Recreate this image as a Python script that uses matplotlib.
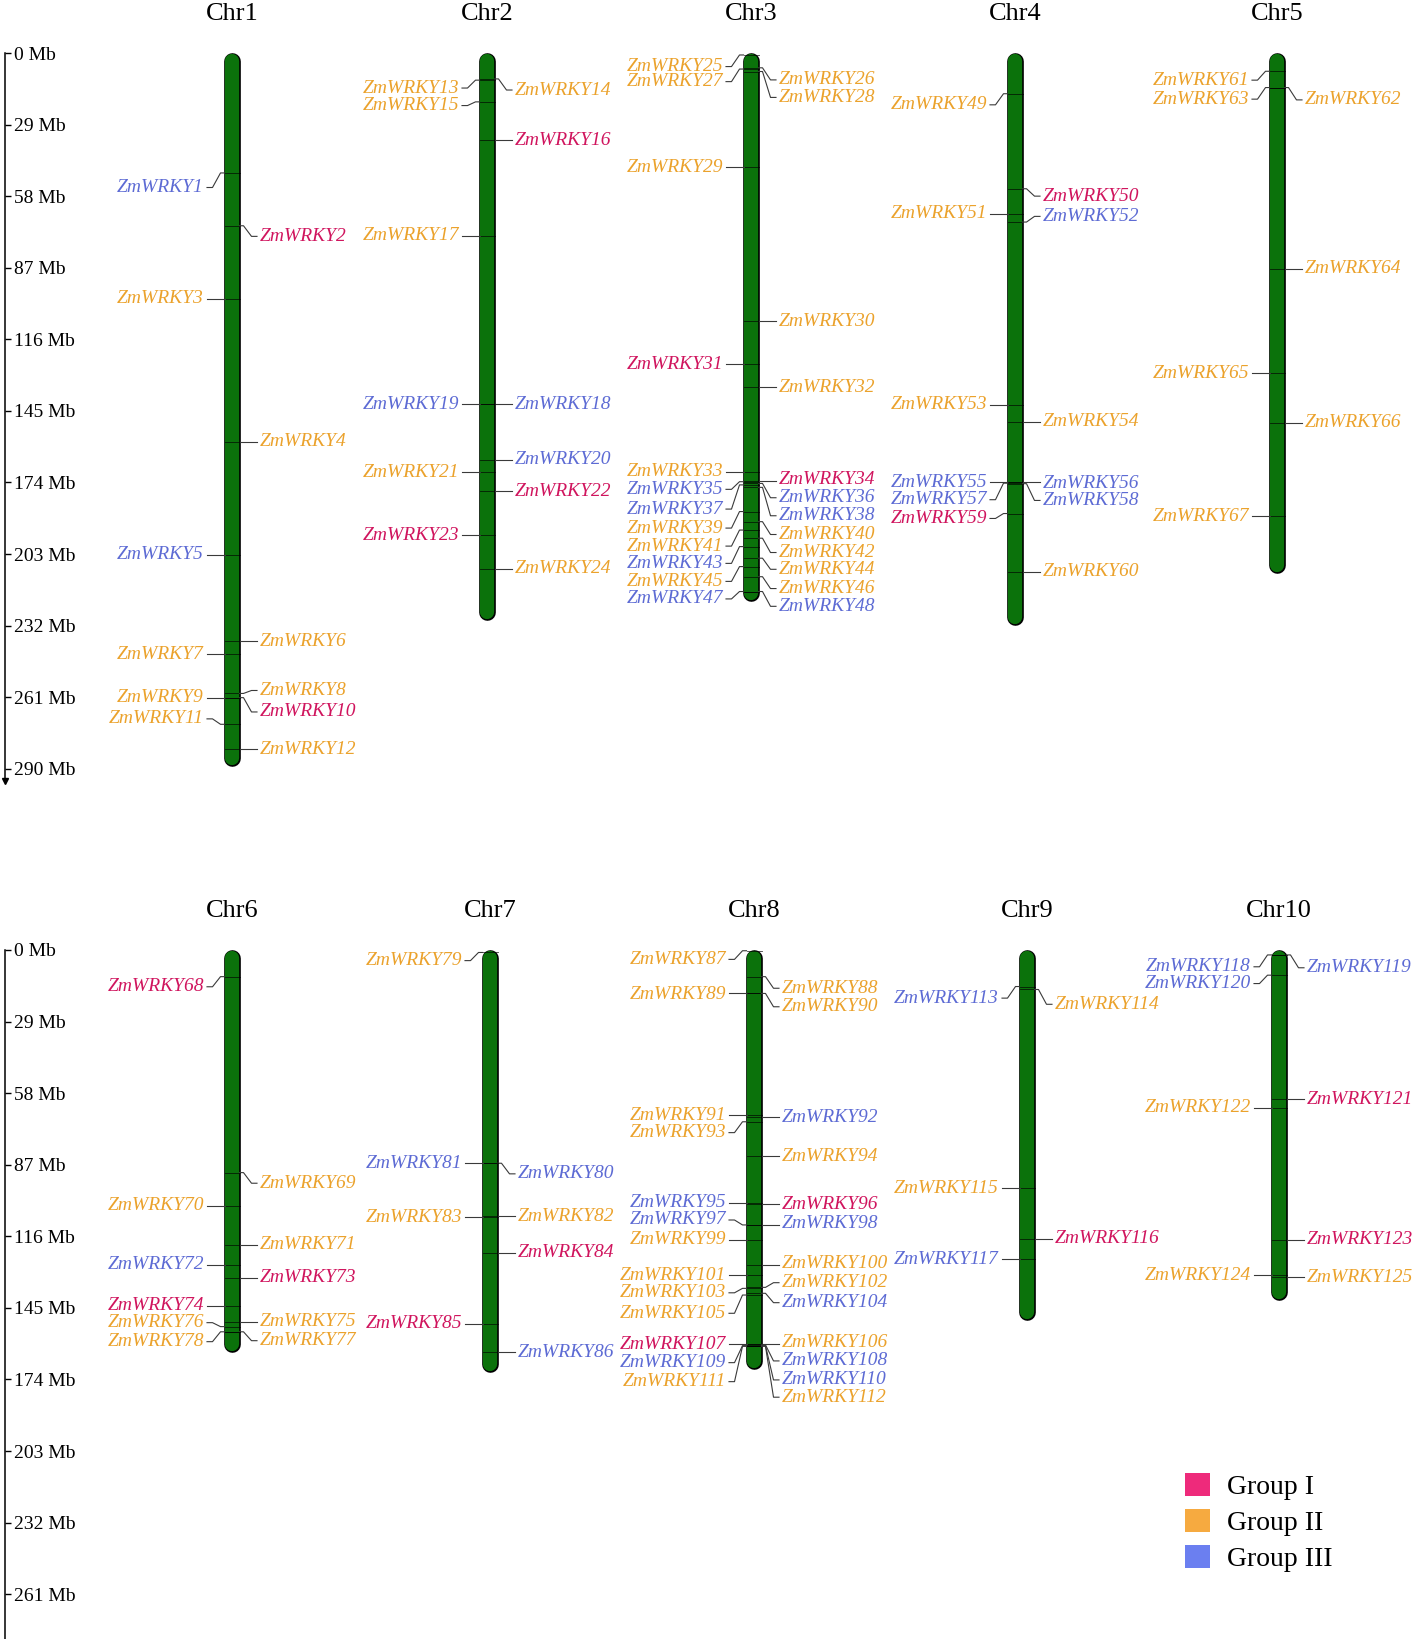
import matplotlib
matplotlib.use("Agg")
import matplotlib.pyplot as plt
from matplotlib.patches import Patch

plt.rcParams["font.family"] = ["Liberation Serif", "DejaVu Serif"]

# chromosomes
chr_names = ["Chr1", "Chr2", "Chr3", "Chr4", "Chr5",
             "Chr6", "Chr7", "Chr8", "Chr9", "Chr10"]
chr_len = [289, 230, 222, 232, 211, 163, 171, 170, 150, 142]   # Mb
genes_per_chr = [12, 12, 24, 12, 7, 11, 8, 26, 5, 8]

# gene position on chromosome (Mb), ZmWRKY1..125 in order
gene_pos = [
    48.6, 70.0, 99.5, 157.5, 203.4, 238.3, 243.7, 259.5, 261.2, 261.2, 272.0, 282.2,       # Chr1
    11.0, 10.5, 19.8, 35.3, 74.0, 142.4, 142.4, 164.8, 169.8, 177.5, 195.3, 208.9,          # Chr2
    0.8, 6.0, 6.5, 7.5, 46.2, 108.7, 126.2, 135.5, 169.6, 173.5, 173.7, 174.4,              # Chr3
    175.0, 176.0, 185.8, 189.9, 193.3, 196.6, 200.0, 204.7, 208.1, 212.2, 218.2, 218.2,
    16.5, 55.0, 65.2, 68.5, 142.5, 149.4, 173.9, 173.9, 174.3, 174.5, 186.6, 210.2,         # Chr4
    7.4, 14.0, 14.0, 87.5, 129.8, 149.8, 187.8,                                             # Chr5
    10.8, 90.2, 103.6, 119.5, 127.6, 132.8, 144.1, 150.6, 152.6, 154.7, 154.7,              # Chr6
    1.0, 86.4, 86.4, 107.9, 108.2, 122.7, 151.5, 163.0,                                     # Chr7
    0.3, 10.8, 17.6, 17.6, 66.9, 67.8, 69.6, 83.5, 102.4, 102.8, 111.4, 111.4, 117.5,      # Chr8
    127.6, 131.7, 136.7, 137.1, 139.1, 139.8, 159.6, 159.6, 160.0, 160.3, 160.3, 160.6, 160.6,
    14.8, 16.0, 96.6, 117.0, 125.4,                                                         # Chr9
    2.0, 2.0, 10.2, 60.5, 64.0, 117.4, 131.8, 132.6,                                        # Chr10
]
# where each label sits (Mb)
label_pos = [
    54.5, 74.3, 99.5, 157.5, 203.4, 238.3, 243.7, 258.3, 261.2, 267.0, 269.8, 282.2,
    14.2, 15.0, 21.3, 35.3, 74.0, 142.4, 142.4, 164.8, 169.8, 177.5, 195.3, 208.9,
    5.5, 10.9, 11.6, 18.0, 46.2, 108.7, 126.2, 135.5, 169.4, 172.8, 176.8, 180.2,
    184.8, 187.5, 192.5, 195.1, 199.8, 202.4, 206.8, 209.2, 214.1, 217.0, 221.2, 224.2,
    21.0, 58.0, 65.2, 66.2, 142.5, 149.4, 173.9, 174.4, 181.0, 181.3, 188.6, 210.2,
    11.0, 19.0, 18.7, 87.5, 129.8, 149.8, 187.8,
    14.9, 94.5, 103.6, 119.5, 127.6, 132.8, 144.1, 150.6, 151.0, 158.3, 158.7,
    4.3, 90.7, 86.4, 107.9, 108.2, 122.7, 151.5, 163.0,
    3.8, 15.5, 18.0, 23.0, 66.9, 67.8, 74.0, 83.5, 102.4, 103.3, 109.4, 110.7, 117.5,
    127.2, 131.7, 134.8, 138.9, 142.9, 147.2, 159.1, 160.0, 166.5, 167.2, 174.2, 174.9, 181.2,
    19.5, 22.0, 96.6, 117.0, 125.4,
    6.8, 7.2, 13.6, 60.5, 64.0, 117.4, 131.8, 132.6,
]
# 1 = Group I, 2 = Group II, 3 = Group III
gene_group = [
    3, 1, 2, 2, 3, 2, 2, 2, 2, 1, 2, 2,
    2, 2, 2, 1, 2, 3, 3, 3, 2, 1, 1, 2,
    2, 2, 2, 2, 2, 2, 1, 2, 2, 1, 3, 3, 3, 3, 2, 2, 2, 2, 3, 2, 2, 2, 3, 3,
    2, 1, 2, 3, 2, 2, 3, 3, 3, 3, 1, 2,
    2, 2, 2, 2, 2, 2, 2,
    1, 2, 2, 2, 3, 1, 1, 2, 2, 2, 2,
    2, 3, 3, 2, 2, 1, 1, 3,
    2, 2, 2, 2, 2, 3, 2, 2, 3, 1, 3, 3, 2, 2, 2, 2, 2, 3, 2, 2, 1, 3, 3, 3, 2, 2,
    3, 2, 2, 1, 3,
    3, 3, 3, 1, 2, 1, 2, 2,
]
group_names = ["Group I", "Group II", "Group III"]
mb_ticks_top = list(range(0, 291, 29))
mb_ticks_bottom = list(range(0, 262, 29))

# layout (pixels)
W, H = 1418, 1639
PX_MB = 2.468
col_px = [[232, 487, 751, 1015, 1277],    # column centres, top row
          [232, 490, 754, 1027, 1279]]    # bottom row
BAR_W = 15
text_col = {1: "#d0155e", 2: "#eba22c", 3: "#5d6bd4"}
patch_col = {1: "#ee2a7b", 2: "#f6aa40", 3: "#6b7ff0"}
bar_green = "#0b720b"

fig = plt.figure(figsize=(W / 100, H / 100), dpi=100)


def make_axes(top_px, ymax, ticks):
    h = ymax * PX_MB
    ax = fig.add_axes([5 / W, 1 - (top_px + h) / H, 1 - 5 / W, h / H])
    ax.set_xlim(5, W)
    ax.set_ylim(ymax, 0)
    for s in ["top", "right", "bottom"]:
        ax.spines[s].set_visible(False)
    ax.spines["left"].set_linewidth(1.1)
    ax.set_xticks([])
    ax.set_yticks(ticks)
    ax.set_yticklabels([f"{t} Mb" for t in ticks])
    ax.tick_params(axis="y", direction="in", length=4, width=1, pad=-6.5, labelsize=14)
    for lab in ax.get_yticklabels():
        lab.set_horizontalalignment("left")
    ax.patch.set_alpha(0)
    return ax


ax_top = make_axes(53, 295, mb_ticks_top)
ax_bot = make_axes(950, (H - 950) / PX_MB, mb_ticks_bottom)
ax_top.plot([0], [295], marker="v", ms=5, color="black",
            transform=ax_top.get_yaxis_transform(), clip_on=False)

half = BAR_W / 2
start = 0
for c, name in enumerate(chr_names):
    row = c // 5
    ax = ax_top if row == 0 else ax_bot
    x = col_px[row][c % 5]
    L = chr_len[c]
    cap = 8.3 / PX_MB
    ax.plot([x, x], [cap, L - cap], color="black", lw=12, solid_capstyle="round",
            clip_on=False, zorder=2)
    ax.plot([x, x], [cap, L - cap], color=bar_green, lw=10.3, solid_capstyle="round",
            clip_on=False, zorder=3)
    ax.text(x, -15.6, name, ha="center", va="center", fontsize=19)

    n = genes_per_chr[c]
    k = 0
    for g in range(start, start + n):
        side = -1 if k % 2 == 0 else 1
        k += 1
        p, lp = gene_pos[g], label_pos[g]
        ax.plot([x - half, x + half], [p, p], color="black", lw=0.6, alpha=0.75,
                zorder=4, clip_on=False)
        e = x + side * half
        if abs(lp - p) < 0.8:
            xs = [e, x + side * 25]
            ys = [p, p]
        else:
            xs = [e, e + side * 4, e + side * 12, x + side * 25]
            ys = [p, p, lp, lp]
        ax.plot(xs, ys, color="#3a3a3a", lw=0.8, zorder=4, clip_on=False)
        ax.text(x + side * 28, lp, f"ZmWRKY{g + 1}",
                ha="right" if side < 0 else "left", va="center",
                fontsize=14, style="italic", color=text_col[gene_group[g]])
    start += n

handles = [Patch(facecolor=patch_col[i + 1], edgecolor="none") for i in range(3)]
fig.legend(handles, group_names, loc="upper left", frameon=False,
           bbox_to_anchor=(1185 / W, 1 - 1473 / H), fontsize=20,
           handlelength=0.9, handleheight=0.9, handletextpad=0.6,
           labelspacing=0.32, borderpad=0, borderaxespad=0)

fig.savefig("out.png", dpi=100)
